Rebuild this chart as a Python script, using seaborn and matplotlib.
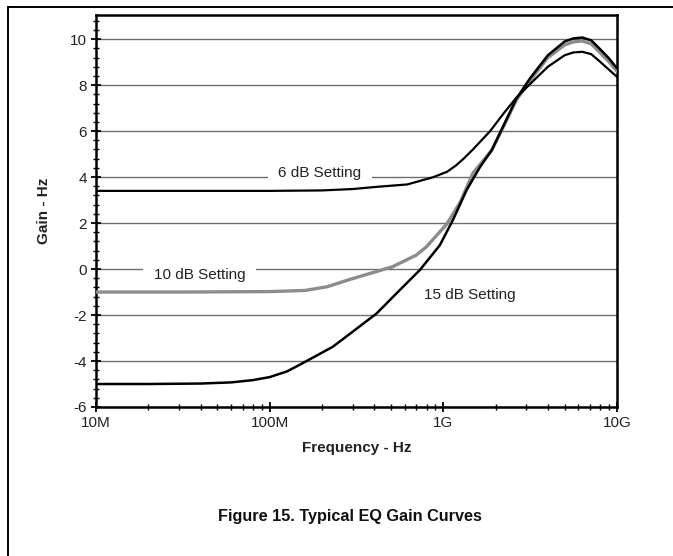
import numpy as np
import pandas as pd
import matplotlib
matplotlib.use("Agg")
import matplotlib.pyplot as plt
from matplotlib.lines import Line2D
from matplotlib.ticker import FixedLocator, MultipleLocator, LogLocator, NullFormatter
import seaborn as sns

# ---- data ----
freq_6db = [1e7, 5e7, 1e8, 2e8, 3e8, 4.2e8, 6.2e8, 8.7e8, 1.05e9, 1.18e9, 1.3e9, 1.48e9,
            1.86e9, 2.24e9, 2.63e9, 3.16e9, 4.0e9, 5.0e9, 5.6e9, 6.3e9, 7.1e9, 7.9e9, 8.9e9, 1e10]
gain_6db = [3.40, 3.40, 3.40, 3.42, 3.48, 3.58, 3.68, 3.99, 4.23, 4.5, 4.78, 5.2,
            6.0, 6.8, 7.45, 8.05, 8.8, 9.3, 9.42, 9.45, 9.35, 9.05, 8.7, 8.36]

freq_10db = [1e7, 3e7, 1e8, 1.6e8, 2.14e8, 2.9e8, 4.6e8, 5.1e8, 7e8, 8e8, 1.045e9, 1.25e9,
             1.48e9, 1.9e9, 2.24e9, 2.63e9, 3.16e9, 4.0e9, 5.0e9, 5.6e9, 6.3e9, 7.1e9, 7.9e9, 8.9e9, 1e10]
gain_10db = [-1.0, -1.0, -0.98, -0.93, -0.77, -0.45, 0.0, 0.1, 0.61, 0.97, 1.95, 2.9,
             4.17, 5.17, 6.25, 7.35, 8.2, 9.2, 9.75, 9.88, 9.92, 9.8, 9.45, 9.05, 8.6]

freq_15db = [1e7, 2e7, 4e7, 6e7, 8e7, 1e8, 1.26e8, 1.5e8, 2.31e8, 3.16e8, 4.13e8, 5.62e8,
             7.33e8, 9.55e8, 1.135e9, 1.36e9, 1.63e9, 1.9e9, 2.24e9, 2.63e9, 3.16e9, 4.0e9,
             5.0e9, 5.6e9, 6.3e9, 7.1e9, 7.9e9, 8.9e9, 1e10]
gain_15db = [-5.0, -5.0, -4.98, -4.93, -4.83, -4.7, -4.45, -4.15, -3.38, -2.6, -1.93, -0.91,
             -0.04, 1.04, 2.13, 3.43, 4.45, 5.17, 6.3, 7.4, 8.3, 9.3,
             9.9, 10.03, 10.07, 9.95, 9.6, 9.2, 8.73]

series_labels = ["6 dB Setting", "10 dB Setting", "15 dB Setting"]
label_pos_freq = [1.95e8, 3.97e7, 1.42e9]
label_pos_gain = [4.17, -0.26, -1.13]

x_ticks = [1e7, 1e8, 1e9, 1e10]
x_ticklabels = ["10M", "100M", "1G", "10G"]
y_ticks = [-6, -4, -2, 0, 2, 4, 6, 8, 10]

df = pd.concat([
    pd.DataFrame({"freq": freq_6db, "gain": gain_6db, "setting": series_labels[0]}),
    pd.DataFrame({"freq": freq_10db, "gain": gain_10db, "setting": series_labels[1]}),
    pd.DataFrame({"freq": freq_15db, "gain": gain_15db, "setting": series_labels[2]}),
], ignore_index=True)

sns.set_style("white")
plt.rcParams["font.family"] = ["Liberation Sans", "DejaVu Sans"]
plt.rcParams["axes.unicode_minus"] = False

fig = plt.figure(figsize=(6.73, 5.56), dpi=100)
ax = fig.add_axes([96 / 673, (556 - 407) / 556, (617 - 96) / 673, (407 - 15) / 556])

palette = {series_labels[0]: "black", series_labels[1]: "#8c8c8c", series_labels[2]: "black"}
widths = {series_labels[0]: 1.6, series_labels[1]: 2.4, series_labels[2]: 1.8}
for lab in [series_labels[1], series_labels[0], series_labels[2]]:
    sub = df[df["setting"] == lab]
    sns.lineplot(data=sub, x="freq", y="gain", ax=ax, color=palette[lab],
                 linewidth=widths[lab], sort=False, estimator=None, legend=False, zorder=5)

ax.set_xscale("log")
ax.set_xlim(1e7, 1e10)
ax.set_ylim(-6, 11.05)

ax.xaxis.set_major_locator(FixedLocator(x_ticks))
ax.set_xticklabels(x_ticklabels)
ax.xaxis.set_minor_locator(LogLocator(base=10, subs=np.arange(2, 10)))
ax.xaxis.set_minor_formatter(NullFormatter())
ax.yaxis.set_major_locator(FixedLocator(y_ticks))
ax.yaxis.set_minor_locator(MultipleLocator(0.4))

ax.tick_params(axis="both", which="major", direction="inout", length=7, width=1.3,
               labelsize=11, colors="black", labelcolor="#222222", pad=3,
               bottom=True, left=True)
ax.tick_params(axis="both", which="minor", direction="inout", length=4, width=1.0,
               colors="black", bottom=True, left=True)

ax.grid(True, axis="y", which="major", color="#6e6e6e", linewidth=1.0, zorder=1)
ax.grid(False, axis="x")
ax.set_axisbelow(True)
for sp in ax.spines.values():
    sp.set_visible(True)
    sp.set_color("black")
    sp.set_linewidth(1.8)

ax.set_xlabel("Frequency - Hz", fontsize=11, fontweight="bold", color="#222222", labelpad=8)
ax.set_ylabel("Gain - Hz", fontsize=11, fontweight="bold", color="#222222", labelpad=14)

for lab, fx, gy in zip(series_labels, label_pos_freq, label_pos_gain):
    ax.text(fx, gy, lab, fontsize=11, color="#222222", ha="center", va="center", zorder=3,
            bbox=dict(boxstyle="square,pad=0.7", facecolor="white", edgecolor="none"))

fig.text(0.52, (556 - 517) / 556, "Figure 15. Typical EQ Gain Curves", fontsize=11.7,
         fontweight="bold", ha="center", va="center", color="#111111")

# outer frame lines (top and left)
fig.add_artist(Line2D([8 / 673, 1.0], [1 - 7 / 556, 1 - 7 / 556], color="black", linewidth=1.4,
                      transform=fig.transFigure))
fig.add_artist(Line2D([8 / 673, 8 / 673], [0, 1 - 7 / 556], color="black", linewidth=1.4,
                      transform=fig.transFigure))

fig.savefig("out.png", dpi=100, facecolor="white")
